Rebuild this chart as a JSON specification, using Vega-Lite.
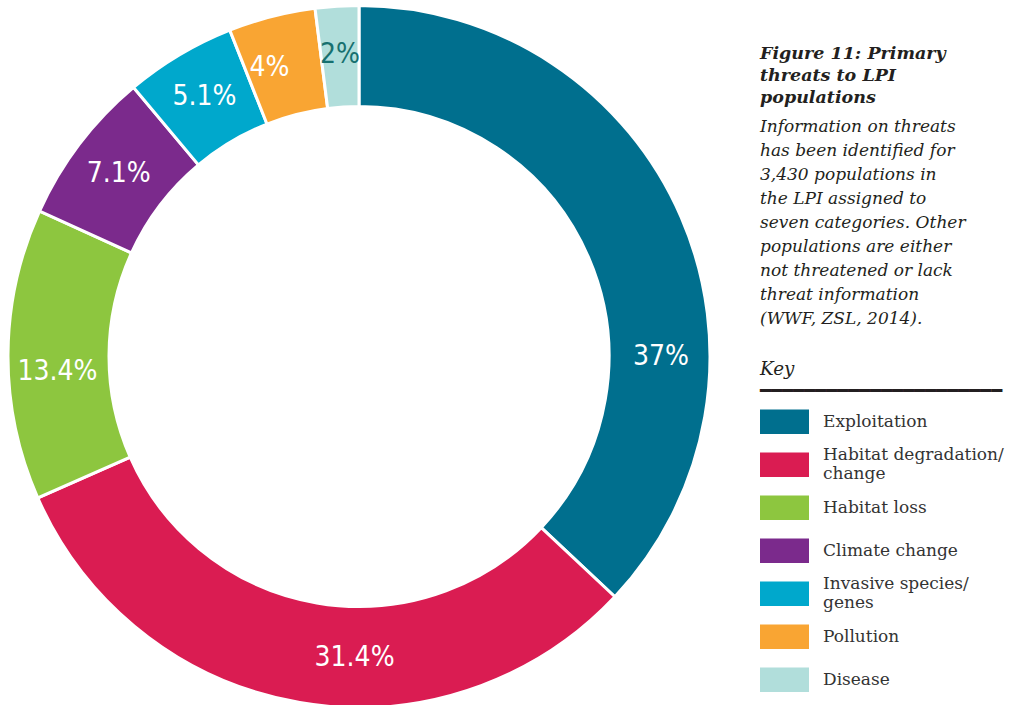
{
  "$schema": "https://vega.github.io/schema/vega-lite/v6.json",
  "width": 718,
  "height": 705,
  "autosize": "none",
  "padding": {"left": 0, "top": 4, "right": 294, "bottom": 0},
  "background": "white",
  "config": {"view": {"stroke": null}},
  "data": {
    "values": [
      {"category": "Exploitation", "share": 37, "order": 1, "label": "37%"},
      {"category": "Habitat degradation/change", "share": 31.4, "order": 2, "label": "31.4%"},
      {"category": "Habitat loss", "share": 13.4, "order": 3, "label": "13.4%"},
      {"category": "Climate change", "share": 7.1, "order": 4, "label": "7.1%"},
      {"category": "Invasive species/genes", "share": 5.1, "order": 5, "label": "5.1%"},
      {"category": "Pollution", "share": 4, "order": 6, "label": "4%"},
      {"category": "Disease", "share": 2, "order": 7, "label": "2%"}
    ]
  },
  "title": {
    "text": ["Figure 11: Primary", "threats to LPI", "populations"],
    "subtitle": [
      "Information on threats",
      "has been identified for",
      "3,430 populations in",
      "the LPI assigned to",
      "seven categories. Other",
      "populations are either",
      "not threatened or lack",
      "threat information",
      "(WWF, ZSL, 2014)."
    ],
    "orient": "top",
    "anchor": "start",
    "frame": "group",
    "align": "left",
    "offset": -327,
    "dx": 760,
    "font": "DejaVu Serif",
    "fontSize": 17.5,
    "fontStyle": "italic",
    "fontWeight": "bold",
    "lineHeight": 22,
    "color": "#231f20",
    "subtitleFont": "DejaVu Serif",
    "subtitleFontSize": 17,
    "subtitleFontStyle": "italic",
    "subtitleFontWeight": "normal",
    "subtitleLineHeight": 24,
    "subtitleColor": "#231f20",
    "subtitlePadding": 12
  },
  "encoding": {
    "theta": {"field": "share", "type": "quantitative", "stack": true},
    "order": {"field": "order", "type": "quantitative"}
  },
  "layer": [
    {
      "mark": {"type": "arc", "radius": 351, "innerRadius": 250, "stroke": "white", "strokeWidth": 3},
      "encoding": {
        "color": {
          "field": "category",
          "type": "nominal",
          "scale": {
            "domain": ["Exploitation", "Habitat degradation/change", "Habitat loss", "Climate change", "Invasive species/genes", "Pollution", "Disease"],
            "range": ["#006F8E", "#DA1C52", "#8DC63F", "#7B2A8C", "#00A8CC", "#F9A533", "#B1DEDB"]
          },
          "legend": {
            "orient": "none",
            "legendX": 760,
            "legendY": 357,
            "title": ["Key", "━━━━━━━━━━━━━━━━━━━━━━"],
            "titleFont": "DejaVu Serif",
            "titleFontSize": 18.3,
            "titleFontStyle": "italic",
            "titleFontWeight": "normal",
            "titleColor": "#231f20",
            "titleLineHeight": 22,
            "titlePadding": -4,
            "titleLimit": 400,
            "symbolType": "M-1,-0.5H1V0.5H-1ZM0,0.75L0,0.75",
            "symbolSize": 2401,
            "symbolStrokeWidth": 0,
            "symbolOpacity": 1,
            "labelFont": "DejaVu Serif",
            "labelFontSize": 17,
            "labelColor": "#333333",
            "labelOffset": 14,
            "labelLimit": 400,
            "labelBaseline": {"expr": "indexof(datum.value, '/') > 0 ? 'line-bottom' : 'middle'"},
            "rowPadding": 0,
            "padding": 0,
            "labelExpr": "datum.label == 'Habitat degradation/change' ? ['Habitat degradation/', 'change'] : datum.label == 'Invasive species/genes' ? ['Invasive species/', 'genes'] : datum.label"
          }
        }
      }
    },
    {
      "mark": {
        "type": "text",
        "radius": 302,
        "font": "DejaVu Sans Condensed, Liberation Sans Narrow, Roboto, sans-serif",
        "fontSize": 28,
        "thetaOffset": {"expr": "datum.category === 'Exploitation' ? 0.41 : datum.category === 'Habitat degradation/change' ? -0.155 : datum.category === 'Habitat loss' ? -0.058 : datum.category === 'Pollution' ? -0.05 : 0"}
      },
      "encoding": {
        "detail": {"field": "category"},
        "text": {"field": "label"},
        "color": {"condition": {"test": "datum.category === 'Disease'", "value": "#17706F"}, "value": "white"}
      }
    }
  ]
}
